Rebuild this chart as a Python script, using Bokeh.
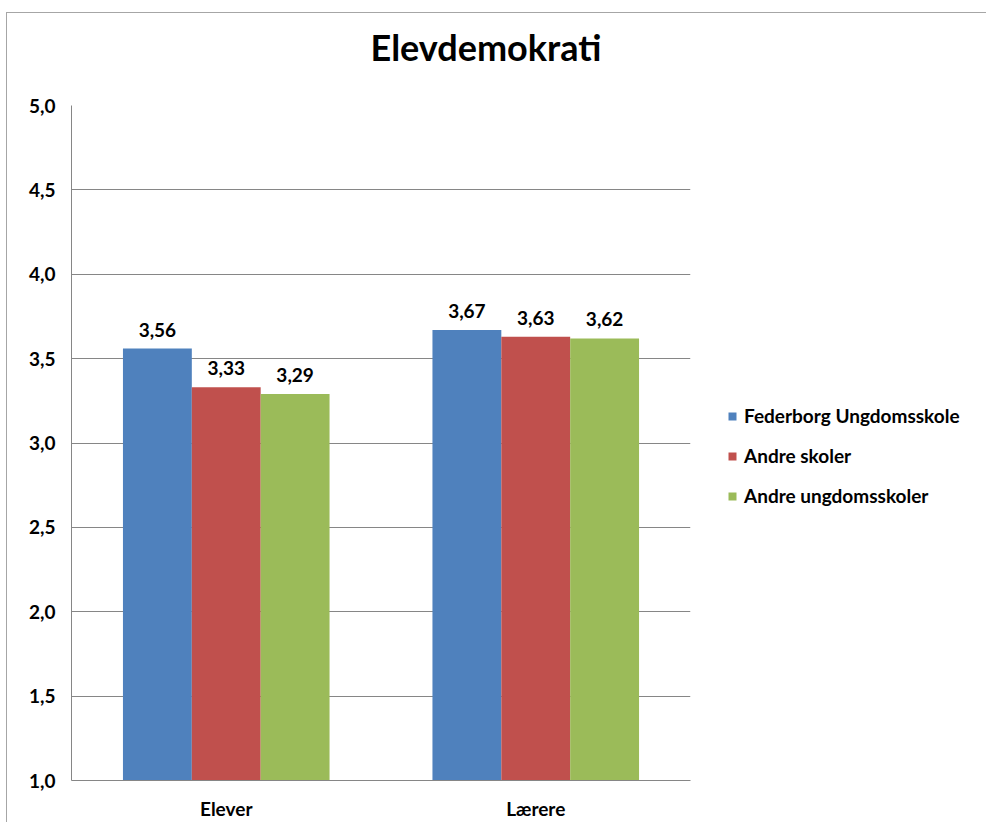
from bokeh.plotting import figure
from bokeh.models import (ColumnDataSource, Range1d, FactorRange, Legend, LegendItem,
                          CustomJSTickFormatter, FixedTicker, Title)
from bokeh.transform import dodge
from bokeh.core.properties import value
from bokeh.embed import file_html
from bokeh.resources import INLINE

# ---- data ----
categories = ["Elever", "Lærere"]
series_names = ["Federborg Ungdomsskole", "Andre skoler", "Andre ungdomsskoler"]
federborg = [3.56, 3.67]
andre_skoler = [3.33, 3.63]
andre_ungdom = [3.29, 3.62]
y_ticks = [1.0, 1.5, 2.0, 2.5, 3.0, 3.5, 4.0, 4.5, 5.0]
title_text = "Elevdemokrati"

colors = ["#4F81BD", "#C0504D", "#9BBB59"]
FONT = "Lato"

def fmt(v):
    return f"{v:.2f}".replace(".", ",")

src = ColumnDataSource(dict(
    cat=categories,
    s0=federborg, s1=andre_skoler, s2=andre_ungdom,
    l0=[fmt(v) for v in federborg],
    l1=[fmt(v) for v in andre_skoler],
    l2=[fmt(v) for v in andre_ungdom],
))

p = figure(frame_width=619, frame_height=675, output_backend="svg", toolbar_location=None,
           x_range=FactorRange(*categories), y_range=Range1d(1.0, 5.0),
           min_border_left=64, min_border_right=288, min_border_top=92,
           min_border_bottom=42, title=title_text)
p.styles = {"margin-left": "6px", "margin-top": "12px",
            "border-top": "1px solid #a6a6a6", "border-left": "1px solid #a6a6a6"}
p.outline_line_color = None
p.background_fill_color = "white"
p.border_fill_color = "white"

p.title.align = "left"
p.title.offset = 299
p.title.standoff = 0
p.title.text_font = FONT
p.title.text_font_style = "bold"
p.title.text_font_size = "36px"
p.title.text_color = "black"

# spacer between title and plot area
p.add_layout(Title(text=" ", text_font_size="1px", standoff=34), "above")

bw = 0.2225
offsets = [-bw, 0.0, bw]
items = []
for i, (name, col) in enumerate(zip(series_names, colors)):
    r = p.vbar(x=dodge("cat", offsets[i], range=p.x_range), top=f"s{i}", bottom=1.0,
               width=bw, source=src, fill_color=col, line_color=None)
    p.text(x=dodge("cat", offsets[i], range=p.x_range), y=f"s{i}", text=f"l{i}",
           source=src, text_align="center", text_baseline="bottom", y_offset=-12,
           text_font=value(FONT), text_font_style="bold", text_font_size="19px",
           text_color="black")
    items.append(LegendItem(label=name, renderers=[r]))

legend = Legend(items=items, location=(37, 273), padding=0, margin=0,
                border_line_color=None, background_fill_alpha=0,
                glyph_width=10, glyph_height=10, label_standoff=7, spacing=17,
                label_text_font=FONT, label_text_font_style="bold",
                label_text_font_size="19px", label_text_color="black")
p.add_layout(legend, "right")

# axes
p.yaxis.ticker = FixedTicker(ticks=y_ticks)
p.yaxis.formatter = CustomJSTickFormatter(code="return tick.toFixed(1).replace('.', ',');")
for ax in (p.xaxis[0], p.yaxis[0]):
    ax.major_tick_line_color = None
    ax.minor_tick_line_color = None
    ax.axis_line_color = "#868686"
    ax.major_label_text_font = FONT
    ax.major_label_text_font_style = "bold"
    ax.major_label_text_font_size = "19px"
    ax.major_label_text_color = "black"
    ax.major_label_standoff = 16
p.yaxis.major_tick_out = 0
p.xaxis.major_tick_out = 0

p.xgrid.grid_line_color = None
p.ygrid.ticker = FixedTicker(ticks=y_ticks)
p.ygrid.grid_line_color = "#868686"

open("out.html", "w").write(file_html(p, INLINE))
